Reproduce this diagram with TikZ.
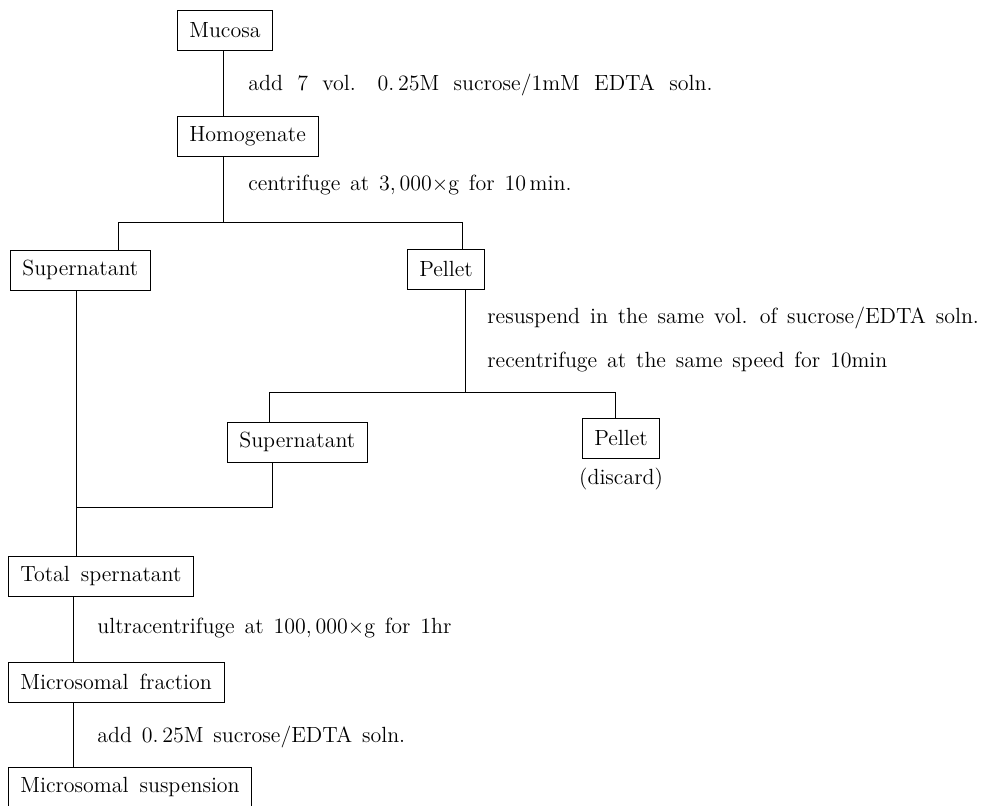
\documentclass[tikz,border=0pt]{standalone}
\usepackage{tikz}
\usetikzlibrary{shapes,positioning}
\tikzstyle{block} = [rectangle, draw, line width=0.4pt, anchor=west,
inner xsep=0.24cm, minimum height=0.8cm, execute at begin node={\spaceskip=0.5em\relax}]
\tikzstyle{note} = [anchor=west, inner sep=0pt, execute at begin node={\spaceskip=0.45em\relax}]
\tikzstyle{line} = [draw, line width=0.5pt]
\begin{document}
\begin{tikzpicture}[x=0.02cm, y=-0.02cm]
\fontsize{12.5}{15}\selectfont
\useasboundingbox (0,0) rectangle (983,805);
 \node [block] (MU) at (177,30) {Mucosa};
 \node [block] (HO) at (177,136) {Homogenate};
 \node [block] (SU) at (10,270) {Supernatant};
 \node [block] (PE) at (407,269) {Pellet};
 \node [block] (SS) at (227,442) {Supernatant};
 \node [block] (PD) at (582,438) {Pellet};
 \node [below=0.05cm of PD] (DI) {(discard)};
 \node [block] (TS) at (8,576) {Total spernatant};
 \node [block] (MF) at (8,682) {Microsomal fraction};
 \node [block] (MS) at (8,787) {Microsomal suspension};
 % steps
 \node [note, execute at begin node={\spaceskip=0.65em\relax}] (T1) at (248,85) {add 7 vol.\hspace{1em}0.\,25M sucrose/1mM EDTA soln.};
 \node [note] (T2) at (248,185) {centrifuge at 3,\,000$\times$g for 10\,min.};
 \node [note] (T3) at (487,318) {resuspend in the same vol. of sucrose/EDTA soln.};
 \node [note] (T4) at (487,362) {recentrifuge at the same speed for 10min};
 \node [note] (T5) at (97,628) {ultracentrifuge at 100,\,000$\times$g for 1hr};
 \node [note] (T6) at (97,737) {add 0.\,25M sucrose/EDTA soln.};
 % branch points
 \coordinate (J1) at (223,222);
 \coordinate (J1L) at (118,222);
 \coordinate (J1R) at (462,222);
 \coordinate (J2) at (465,392);
 \coordinate (J2L) at (269,392);
 \coordinate (J2R) at (615,392);
 \coordinate (J3) at (272,507);
 \coordinate (J3L) at (76,507);
 \coordinate (J4) at (73,0);
 \path [line] (MU.south -| J1) -- (HO.north -| J1);
 \path [line] (HO.south -| J1) -- (J1);
 \path [line] (SU.north -| J1L) -- (J1L) -- (J1R) -- (PE.north -| J1R);
 \path [line] (PE.south -| J2) -- (J2);
 \path [line] (SS.north -| J2L) -- (J2L) -- (J2R) -- (PD.north -| J2R);
 \path [line] (SS.south -| J3) -- (J3) -- (J3L);
 \path [line] (SU.south -| J3L) -- (TS.north -| J3L);
 \path [line] (TS.south -| J4) -- (MF.north -| J4);
 \path [line] (MF.south -| J4) -- (MS.north -| J4);
\end{tikzpicture}
\end{document}
